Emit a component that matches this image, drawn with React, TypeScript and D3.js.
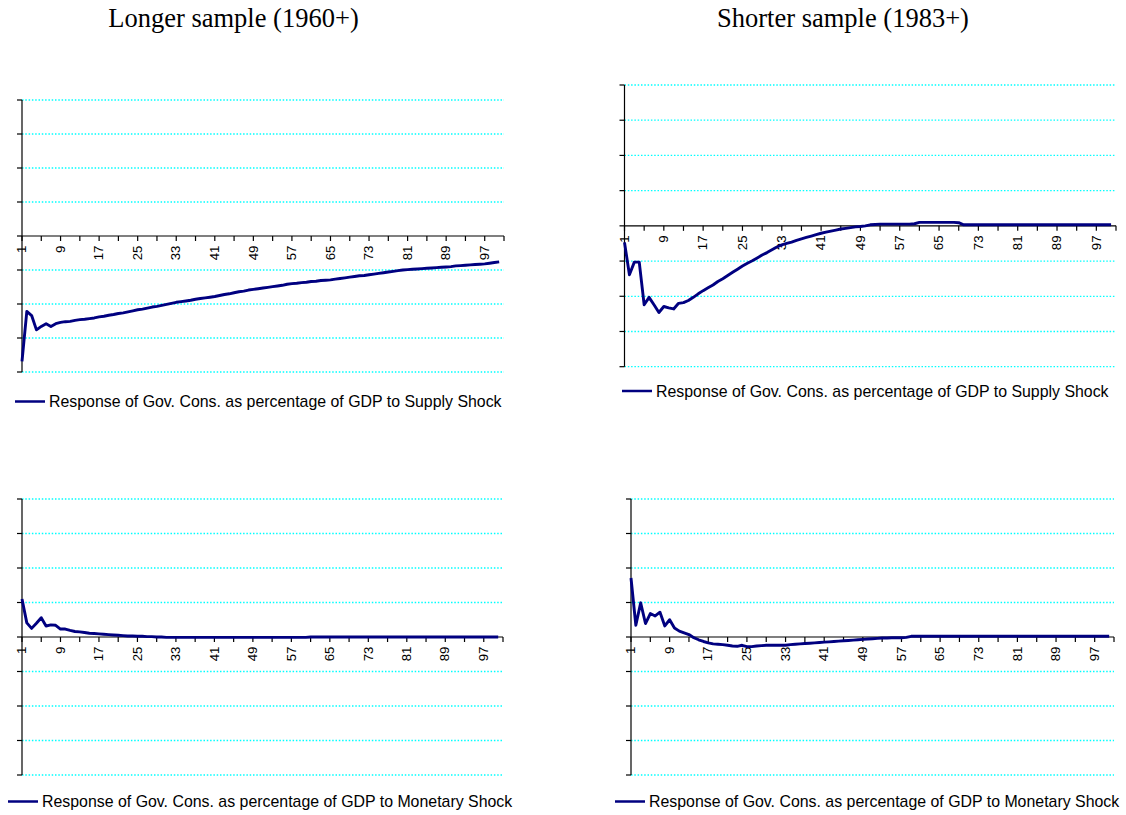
import React from 'react';
import * as d3 from 'd3';

// ---------- data ----------
const titles = ['Longer sample (1960+)', 'Shorter sample (1983+)'];

const legendSupply = 'Response of Gov. Cons. as percentage of GDP to Supply Shock';
const legendMonetary = 'Response of Gov. Cons. as percentage of GDP to Monetary Shock';

const xTickLabels = [1, 9, 17, 25, 33, 41, 49, 57, 65, 73, 81, 89, 97];
const xTickMarks = [1, 5, 9, 13, 17, 21, 25, 29, 33, 37, 41, 45, 49, 53, 57, 61, 65, 69, 73, 77, 81, 85, 89, 93, 97, 101];
const yGridValues = [-0.4, -0.3, -0.2, -0.1, 0, 0.1, 0.2, 0.3, 0.4];

const supplyLong = [
  -0.369, -0.222, -0.234, -0.276, -0.266, -0.258, -0.266, -0.258, -0.254, -0.252,
  -0.251, -0.248, -0.246, -0.245, -0.243, -0.241, -0.238, -0.236, -0.233, -0.231,
  -0.228, -0.226, -0.223, -0.220, -0.217, -0.215, -0.212, -0.209, -0.207, -0.204,
  -0.201, -0.198, -0.195, -0.193, -0.191, -0.189, -0.186, -0.184, -0.182, -0.180,
  -0.178, -0.175, -0.172, -0.170, -0.167, -0.164, -0.162, -0.159, -0.157, -0.155,
  -0.153, -0.151, -0.149, -0.147, -0.145, -0.142, -0.140, -0.139, -0.137, -0.136,
  -0.134, -0.133, -0.131, -0.130, -0.129, -0.127, -0.125, -0.123, -0.121, -0.119,
  -0.117, -0.116, -0.114, -0.112, -0.110, -0.108, -0.106, -0.104, -0.102, -0.100,
  -0.099, -0.098, -0.097, -0.096, -0.095, -0.094, -0.093, -0.092, -0.091, -0.090,
  -0.088, -0.087, -0.086, -0.085, -0.084, -0.083, -0.082, -0.080, -0.078, -0.076,
];

const supplyShort = [
  -0.047, -0.139, -0.103, -0.103, -0.224, -0.203, -0.224, -0.246, -0.229, -0.233,
  -0.236, -0.220, -0.218, -0.212, -0.203, -0.193, -0.184, -0.176, -0.168, -0.158,
  -0.150, -0.141, -0.132, -0.123, -0.114, -0.106, -0.099, -0.091, -0.083, -0.076,
  -0.068, -0.060, -0.054, -0.050, -0.046, -0.041, -0.037, -0.033, -0.029, -0.025,
  -0.021, -0.018, -0.015, -0.012, -0.009, -0.007, -0.005, -0.003, -0.002, 0.000,
  0.003, 0.004, 0.005, 0.005, 0.005, 0.005, 0.005, 0.005, 0.005, 0.006,
  0.010, 0.010, 0.010, 0.010, 0.010, 0.010, 0.010, 0.010, 0.009, 0.003,
  0.003, 0.003, 0.003, 0.003, 0.003, 0.003, 0.003, 0.003, 0.003, 0.003,
  0.003, 0.003, 0.003, 0.003, 0.003, 0.003, 0.003, 0.003, 0.003, 0.003,
  0.003, 0.003, 0.003, 0.003, 0.003, 0.003, 0.003, 0.003, 0.003, 0.003,
];

const monetaryLong = [
  0.110, 0.041, 0.025, 0.040, 0.056, 0.032, 0.035, 0.034, 0.023, 0.023,
  0.019, 0.016, 0.015, 0.013, 0.011, 0.010, 0.009, 0.008, 0.007, 0.006,
  0.005, 0.004, 0.003, 0.003, 0.002, 0.002, 0.001, 0.001, 0.000, 0.000,
  -0.001, -0.001, -0.001, -0.001, -0.001, -0.001, -0.001, -0.001, -0.001, -0.001,
  -0.001, -0.001, -0.001, -0.001, -0.001, -0.001, -0.001, -0.001, -0.001, -0.001,
  -0.001, -0.001, -0.001, -0.001, -0.001, -0.001, -0.001, -0.001, -0.001, -0.001,
  0.000, 0.000, 0.000, 0.000, 0.000, 0.000, 0.000, 0.000, 0.000, 0.000,
  0.000, 0.000, 0.000, 0.000, 0.000, 0.000, 0.000, 0.000, 0.000, 0.000,
  0.000, 0.000, 0.000, 0.000, 0.000, 0.000, 0.000, 0.000, 0.000, 0.000,
  0.000, 0.000, 0.000, 0.000, 0.000, 0.000, 0.000, 0.000, 0.000, 0.000,
];

const monetaryShort = [
  0.171, 0.034, 0.099, 0.039, 0.068, 0.061, 0.072, 0.032, 0.050, 0.026,
  0.017, 0.012, 0.007, -0.002, -0.008, -0.013, -0.017, -0.020, -0.021, -0.022,
  -0.024, -0.026, -0.027, -0.024, -0.028, -0.028, -0.026, -0.025, -0.024, -0.024,
  -0.024, -0.024, -0.024, -0.022, -0.021, -0.020, -0.019, -0.018, -0.017, -0.016,
  -0.015, -0.014, -0.013, -0.012, -0.011, -0.010, -0.009, -0.008, -0.007, -0.006,
  -0.005, -0.004, -0.003, -0.003, -0.002, -0.002, -0.002, -0.001, 0.002, 0.002,
  0.002, 0.002, 0.002, 0.002, 0.002, 0.002, 0.002, 0.002, 0.002, 0.002,
  0.002, 0.002, 0.002, 0.002, 0.002, 0.002, 0.002, 0.002, 0.002, 0.002,
  0.002, 0.002, 0.002, 0.002, 0.002, 0.002, 0.002, 0.002, 0.002, 0.002,
  0.002, 0.002, 0.002, 0.002, 0.002, 0.002, 0.002, 0.002, 0.002, 0.002,
];

// ---------- layout ----------
type Panel = {
  values: number[];
  legend: string;
  left: number;
  right: number;
  top: number;
  bottom: number;
  legendX: number;
  legendY: number;
};

const panels: Panel[] = [
  { values: supplyLong, legend: legendSupply, left: 22, right: 504, top: 100, bottom: 372, legendX: 15, legendY: 401.5 },
  { values: supplyShort, legend: legendSupply, left: 624.5, right: 1116, top: 85, bottom: 366.7, legendX: 622, legendY: 391 },
  { values: monetaryLong, legend: legendMonetary, left: 22, right: 503, top: 499, bottom: 775, legendX: 8, legendY: 801.5 },
  { values: monetaryShort, legend: legendMonetary, left: 631, right: 1114, top: 499, bottom: 775, legendX: 615, legendY: 801.5 },
];

const titlePos = [233.5, 843];

const LINE_COLOR = '#000080';
const GRID_COLOR = '#00FFFF';
const SANS = 'Arial, "Liberation Sans", Helvetica, sans-serif';

function ChartPanel({ p }: { p: Panel }) {
  const x = d3.scaleLinear().domain([1, 101]).range([p.left, p.right]);
  const y = d3.scaleLinear().domain([-0.4, 0.4]).range([p.bottom, p.top]);
  const line = d3
    .line<number>()
    .x((_, i) => x(i + 1))
    .y((d) => y(d));
  const y0 = y(0);
  return (
    <g>
      {yGridValues
        .filter((v) => v !== 0)
        .map((v) => (
          <line
            key={'g' + v}
            x1={p.left}
            x2={p.right}
            y1={y(v)}
            y2={y(v)}
            stroke={GRID_COLOR}
            strokeWidth={1.3}
            strokeDasharray="1.5,1.8"
          />
        ))}
      <line x1={p.left} x2={p.left} y1={p.top} y2={p.bottom} stroke="#000" strokeWidth={1.2} />
      {yGridValues.map((v) => (
        <line key={'yt' + v} x1={p.left - 5} x2={p.left} y1={y(v)} y2={y(v)} stroke="#000" strokeWidth={1.2} />
      ))}
      <line x1={p.left} x2={p.right} y1={y0} y2={y0} stroke="#000" strokeWidth={1.2} />
      {xTickMarks.map((c) => (
        <line key={'xt' + c} x1={x(c)} x2={x(c)} y1={y0} y2={y0 + 5} stroke="#000" strokeWidth={1.2} />
      ))}
      {xTickLabels.map((c) => (
        <text
          key={'xl' + c}
          transform={`translate(${x(c) + 4.2},${y0 + 9.5}) rotate(-90)`}
          textAnchor="end"
          fontFamily={SANS}
          fontSize={13.3}
          fill="#000"
        >
          {c}
        </text>
      ))}
      <path d={line(p.values) || ''} fill="none" stroke={LINE_COLOR} strokeWidth={2.9} strokeLinejoin="round" />
      <line x1={p.legendX} x2={p.legendX + 30} y1={p.legendY} y2={p.legendY} stroke={LINE_COLOR} strokeWidth={2.5} />
      <text x={p.legendX + 34} y={p.legendY + 5.6} fontFamily={SANS} fontSize={15.9} fill="#000">
        {p.legend}
      </text>
    </g>
  );
}

export default function App() {
  return (
    <svg
      width={1126}
      height={815}
      style={{ position: 'absolute', left: 0, top: 0, background: '#fff' }}
    >
      <rect x={0} y={0} width={1126} height={815} fill="#fff" />
      {titles.map((t, i) => (
        <text
          key={t}
          x={titlePos[i]}
          y={27}
          textAnchor="middle"
          fontFamily='"Liberation Serif", "Times New Roman", serif'
          fontSize={26.5}
          fill="#000"
        >
          {t}
        </text>
      ))}
      {panels.map((p, i) => (
        <ChartPanel key={i} p={p} />
      ))}
    </svg>
  );
}
